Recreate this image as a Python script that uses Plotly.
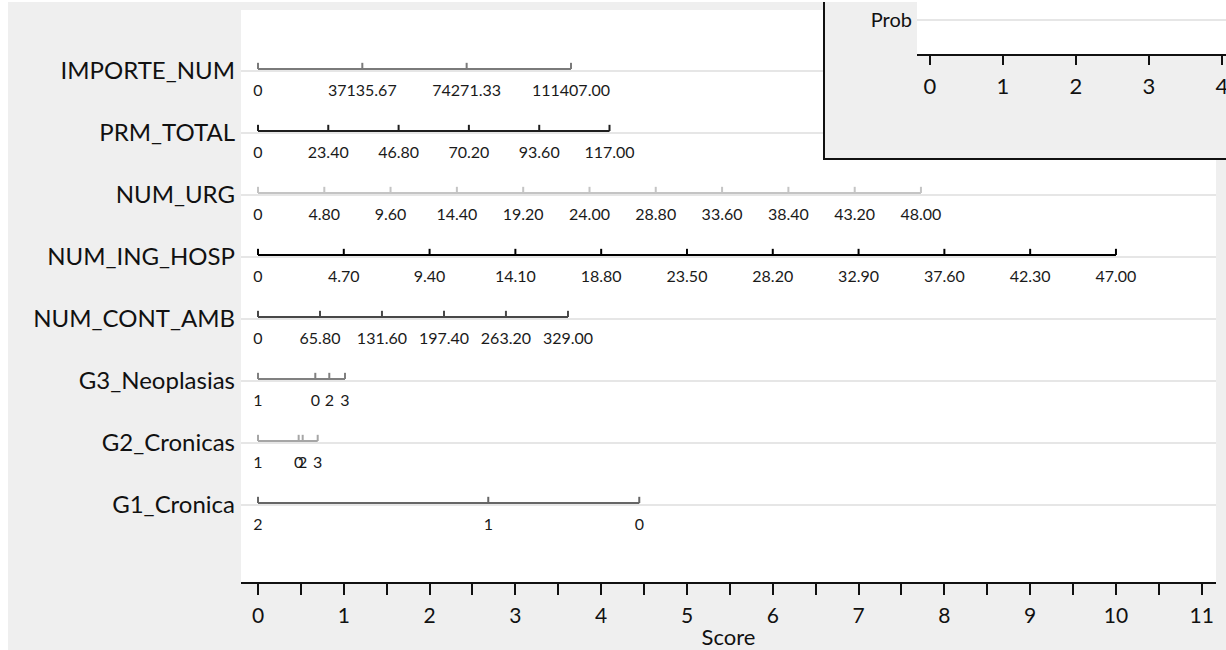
import plotly.graph_objects as go

# ---------------- data ----------------
variables = ["IMPORTE_NUM", "PRM_TOTAL", "NUM_URG", "NUM_ING_HOSP",
             "NUM_CONT_AMB", "G3_Neoplasias", "G2_Cronicas", "G1_Cronica"]

importe_labels = ["0", "37135.67", "74271.33", "111407.00"]
importe_points = [0, 1.216, 2.432, 3.648]

prm_labels = ["0", "23.40", "46.80", "70.20", "93.60", "117.00"]
prm_points = [0, 0.819, 1.639, 2.458, 3.278, 4.097]

urg_labels = ["0", "4.80", "9.60", "14.40", "19.20", "24.00", "28.80",
              "33.60", "38.40", "43.20", "48.00"]
urg_points = [0, 0.773, 1.545, 2.318, 3.091, 3.864, 4.636, 5.409, 6.182, 6.955, 7.727]

ing_labels = ["0", "4.70", "9.40", "14.10", "18.80", "23.50", "28.20",
              "32.90", "37.60", "42.30", "47.00"]
ing_points = [0, 1, 2, 3, 4, 5, 6, 7, 8, 9, 10]

amb_labels = ["0", "65.80", "131.60", "197.40", "263.20", "329.00"]
amb_points = [0, 0.723, 1.445, 2.168, 2.890, 3.613]

g3_labels = ["1", "0", "2", "3"]
g3_points = [0, 0.668, 0.831, 1.014]

g2_labels = ["1", "0", "2", "3"]
g2_points = [0, 0.474, 0.521, 0.696]

g1_labels = ["2", "1", "0"]
g1_points = [0, 2.684, 4.444]

score_ticks = [0, 1, 2, 3, 4, 5, 6, 7, 8, 9, 10, 11]
prob_ticks = [0, 1, 2, 3, 4]

# ---------------- styling ----------------
scale_labels = [importe_labels, prm_labels, urg_labels, ing_labels,
                amb_labels, g3_labels, g2_labels, g1_labels]
scale_points = [importe_points, prm_points, urg_points, ing_points,
                amb_points, g3_points, g2_points, g1_points]
scale_colors = ["#7a7a7a", "#1e1e1e", "#c4c4c4", "#000000",
                "#484848", "#808080", "#a6a6a6", "#666666"]

FONT = "Lato"
OX, OY = 8, 2                # page offset of the figure
W, H = 1226 - OX, 650 - OY   # figure size
TICK_UP = 0.1      # tick height in row units (~6px)
LABEL_DY = 0.37    # label offset below scale (~23px)

fig = go.Figure()

for i, (labs, pts, col) in enumerate(zip(scale_labels, scale_points, scale_colors)):
    xs = [pts[0], pts[-1], None]
    ys = [i, i, None]
    for p in pts:
        xs += [p, p, None]
        ys += [i, i - TICK_UP, None]
    fig.add_trace(go.Scatter(x=xs, y=ys, mode="lines",
                             line=dict(color=col, width=2),
                             hoverinfo="skip", showlegend=False,
                             xaxis="x", yaxis="y"))
    fig.add_trace(go.Scatter(x=pts, y=[i + LABEL_DY] * len(pts), mode="text",
                             text=labs, textposition="middle center",
                             textfont=dict(family=FONT, size=16, color="#1a1a1a"),
                             hoverinfo="skip", showlegend=False,
                             xaxis="x", yaxis="y"))

# dummy traces to create the inset subplots
fig.add_trace(go.Scatter(x=[None], y=[None], xaxis="x2", yaxis="y2",
                         showlegend=False, hoverinfo="skip"))
fig.add_trace(go.Scatter(x=[None], y=[None], xaxis="x3", yaxis="y3",
                         showlegend=False, hoverinfo="skip"))


def px_x(p):
    return (p - OX) / W


def px_y(p):
    return 1 - (p - OY) / H


fig.update_layout(
    width=W, height=H,
    margin=dict(l=0, r=0, t=0, b=0, autoexpand=False),
    paper_bgcolor="#efefef",
    plot_bgcolor="#ffffff",
    font=dict(family=FONT, color="#111111"),
    showlegend=False,
    xaxis=dict(
        domain=[px_x(241), px_x(1216)],
        range=[-0.198, 11.166],
        tickvals=score_ticks,
        ticks="outside", ticklen=11, tickwidth=2, tickcolor="#111111",
        minor=dict(dtick=0.5, tick0=0, ticks="outside", ticklen=11,
                   tickwidth=2, tickcolor="#111111", showgrid=False),
        showline=True, linecolor="#111111", linewidth=2,
        showgrid=False, zeroline=False,
        tickfont=dict(family=FONT, size=21, color="#111111"),
        ticklabelstandoff=3,
        title=dict(text="Score", font=dict(family=FONT, size=22, color="#111111"),
                   standoff=5),
        anchor="y", fixedrange=True,
    ),
    yaxis=dict(
        domain=[px_y(582), px_y(10)],
        range=[8.274, -0.952],
        tickvals=[i + 0.03 for i in range(len(variables))],
        ticktext=variables,
        ticks="", showline=False, zeroline=False,
        showgrid=True, gridcolor="#e6e6e6", gridwidth=2,
        tickfont=dict(family=FONT, size=24, color="#111111"),
        ticklabelstandoff=5,
        anchor="x", fixedrange=True,
    ),
    xaxis2=dict(domain=[px_x(823), 1], range=[0, 1], visible=False,
                anchor="y2", fixedrange=True),
    yaxis2=dict(domain=[px_y(160), 1], range=[0, 1], visible=False,
                anchor="x2", fixedrange=True),
    xaxis3=dict(
        domain=[px_x(917), 1],
        range=[-0.178, 4.055],
        tickvals=prob_ticks,
        ticks="outside", ticklen=9, tickwidth=2, tickcolor="#111111",
        showline=True, linecolor="#111111", linewidth=2,
        showgrid=False, zeroline=False,
        tickfont=dict(family=FONT, size=22, color="#111111"),
        ticklabelstandoff=3,
        ticklabeloverflow="allow",
        anchor="y3", fixedrange=True,
    ),
    yaxis3=dict(
        domain=[px_y(54), 1],
        range=[-1.84, 1],
        tickvals=[0], ticktext=["Prob"],
        ticks="", showline=False, zeroline=False,
        showgrid=True, gridcolor="#e6e6e6", gridwidth=2,
        tickfont=dict(family=FONT, size=20, color="#111111"),
        ticklabelstandoff=4,
        anchor="x3", fixedrange=True,
    ),
    shapes=[
        # inset box (drawn inside the inset subplot so it covers the main plot)
        dict(type="rect", xref="x2", yref="y2", x0=0, x1=1.3, y0=0, y1=1.3,
             fillcolor="#efefef", line=dict(color="#111111", width=4),
             layer="below"),
    ],
)

fig.write_html(
    "out.html",
    post_script="document.body.style.margin='2px 0 0 8px';"
                "document.body.style.overflow='hidden';",
)
